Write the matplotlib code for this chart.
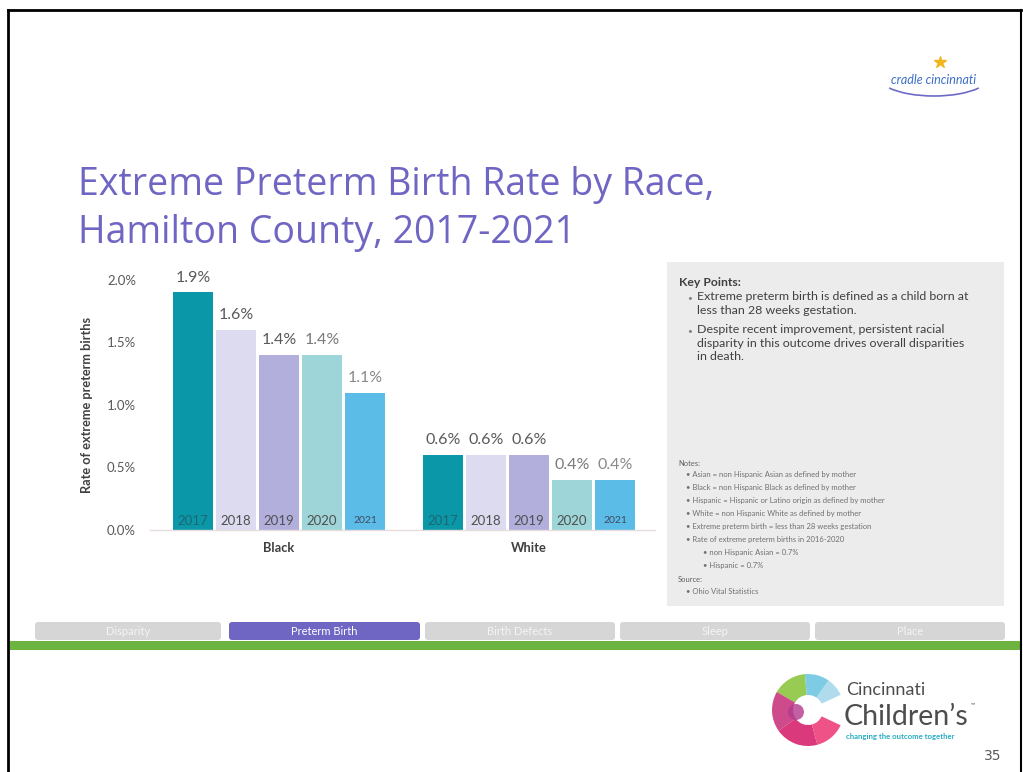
import matplotlib
matplotlib.use("Agg")
import matplotlib.pyplot as plt
from matplotlib.patches import Rectangle, FancyBboxPatch, Wedge, Arc, Circle
import numpy as np

# ---------------- data ----------------
groups = ["Black", "White"]
years = ["2017", "2018", "2019", "2020", "2021"]
black_rates = [1.9, 1.6, 1.4, 1.4, 1.1]
white_rates = [0.6, 0.6, 0.6, 0.4, 0.4]
yticks = [0.0, 0.5, 1.0, 1.5, 2.0]
ytick_labels = ["0.0%", "0.5%", "1.0%", "1.5%", "2.0%"]
bar_colors = ["#0A98A8", "#DCDBF0", "#B2AFDD", "#9DD5D8", "#5CBCE8"]
year_label_colors = ["#1E6673", "#505050", "#505050", "#505050", "#404A60"]
year_label_sizes = [9.5, 9.5, 9.5, 9.5, 7.5]
value_label_colors = ["#595959", "#595959", "#595959", "#7A7A7A", "#8A8A8A"]
nav_labels = ["Disparity", "Preterm Birth", "Birth Defects", "Sleep", "Place"]
key_points = [
    "Extreme preterm birth is defined as a child born at\nless than 28 weeks gestation.",
    "Despite recent improvement, persistent racial\ndisparity in this outcome drives overall disparities\nin death.",
]
notes = [
    "• Asian = non Hispanic Asian as defined by mother",
    "• Black = non Hispanic Black as defined by mother",
    "• Hispanic = Hispanic or Latino origin as defined by mother",
    "• White = non Hispanic White as defined by mother",
    "• Extreme preterm birth = less than 28 weeks gestation",
    "• Rate of extreme preterm births in 2016-2020",
]
sub_notes = ["• non Hispanic Asian = 0.7%", "• Hispanic = 0.7%"]
source = "• Ohio Vital Statistics"

W, H = 1023, 772
fig = plt.figure(figsize=(W / 100, H / 100), dpi=100)
fig.patch.set_facecolor("white")
FONT = "Lato"

# ---------- overlay axes in pixel coordinates ----------
bg = fig.add_axes([0, 0, 1, 1])
bg.set_xlim(0, W)
bg.set_ylim(H, 0)
bg.axis("off")

# slide border
bg.plot([8, 1021], [10, 10], color="black", lw=2)
bg.plot([8, 8], [10, 772], color="black", lw=2)
bg.plot([1021, 1021], [10, 772], color="black", lw=1.5)

# title
bg.text(78, 195, "Extreme Preterm Birth Rate by Race,", fontsize=27, color="#6F66C4",
        family="Open Sans", va="baseline")
bg.text(78, 243, "Hamilton County, 2017-2021", fontsize=27, color="#6F66C4",
        family="Open Sans", va="baseline")

# key points box
bg.add_patch(Rectangle((667, 262), 337, 344, facecolor="#ECECEC", edgecolor="none"))
bg.text(679, 282, "Key Points:", fontsize=8.8, fontweight="bold", color="#404040",
        family=FONT, va="center")
ky = 298
for kp in key_points:
    bg.text(687, ky, "•", fontsize=6, color="#7f7f7f", va="center", family=FONT)
    n = kp.count("\n") + 1
    bg.text(697, ky - 7, kp, fontsize=8.9, color="#404040", family=FONT, va="top",
            linespacing=1.3)
    ky += n * 16 + 1

bg.text(678, 463, "Notes:", fontsize=5.4, color="#606060", family=FONT, va="center")
ny = 475
for nt in notes:
    bg.text(686, ny, nt, fontsize=5.5, color="#707070", family=FONT, va="center")
    ny += 12.9
for sn in sub_notes:
    bg.text(703, ny, sn, fontsize=5.5, color="#707070", family=FONT, va="center")
    ny += 12.9
bg.text(678, 579, "Source:", fontsize=5.4, color="#606060", family=FONT, va="center")
bg.text(686, 592, source, fontsize=5.5, color="#707070", family=FONT, va="center")

# nav bar
nav_x = [35, 229, 425, 620, 815]
nav_w = [186, 191, 190, 190, 190]
for i, (lab, x0, w) in enumerate(zip(nav_labels, nav_x, nav_w)):
    fc = "#6F66C4" if i == 1 else "#D6D6D6"
    bg.add_patch(FancyBboxPatch((x0, 622), w, 18, boxstyle="round,pad=0,rounding_size=3",
                                facecolor=fc, edgecolor="none"))
    bg.text(x0 + w / 2, 631.5, lab, fontsize=8, color="white" if i == 1 else "#F4F4F4",
            ha="center", va="center", family=FONT)
bg.add_patch(Rectangle((10, 641), 1011, 9, facecolor="#6DB33F", edgecolor="none"))

# cradle cincinnati logo
bg.plot([940], [62], marker="*", color="#F2B51C", markersize=9)
bg.text(934, 80, "cradle cincinnati", fontsize=9, color="#3D6FC6", ha="center",
        va="center", family=FONT, style="italic")
bg.add_patch(Arc((934, 76), 112, 40, theta1=15, theta2=165, color="#6E6AC9", lw=1.2))

# Cincinnati Children's logo
cx, cy = 808, 710
wedge_specs = [(95, 150, "#8CC63F"), (55, 95, "#6FC7E0"), (25, 55, "#A8D8EA"),
               (150, 215, "#C8377D"), (215, 285, "#D6246E"), (285, 335, "#EE3F7A")]
for t1, t2, c in wedge_specs:
    bg.add_patch(Wedge((cx, cy), 36, -t2, -t1, width=21, facecolor=c, edgecolor="none",
                       alpha=0.9))
bg.add_patch(Circle((cx - 12, cy + 2), 8, facecolor="#B23A8E", edgecolor="none", alpha=0.8))
bg.text(846, 690, "Cincinnati", fontsize=13, color="#4D4D4F", family=FONT, va="center")
bg.text(844, 717, "Children\u2019s", fontsize=20.5, color="#4D4D4F", family=FONT,
        va="center")
bg.text(971, 705, "\u2122", fontsize=4, color="#4D4D4F", family=FONT, va="center")
bg.text(846, 737, "changing the outcome together", fontsize=5.6, color="#27AEC4",
        fontweight="bold", family=FONT, va="center")
bg.text(1001, 756, "35", fontsize=10, color="#595959", family="DejaVu Sans", ha="right",
        va="center")

# ---------------- chart ----------------
px_per_unit = 250.0
left_px, right_px, bottom_px, top_px = 150, 655, 530, 280
x_center0 = 279.0
ax = fig.add_axes([left_px / W, (H - bottom_px) / H, (right_px - left_px) / W,
                   (bottom_px - top_px) / H])
ax.set_xlim((left_px - x_center0) / px_per_unit, (right_px - x_center0) / px_per_unit)
ax.set_ylim(0, 2.0)
ax.patch.set_alpha(0)

x = np.arange(len(groups))
step = 43.0 / px_per_unit
width = 40.0 / px_per_unit
series = list(zip(black_rates, white_rates))
for i, yr in enumerate(years):
    vals = series[i]
    xs = x + (i - 2) * step
    ax.bar(xs, vals, width=width, color=bar_colors[i], edgecolor="none", zorder=2)
    for xi, v in zip(xs, vals):
        ax.annotate(f"{v:.1f}%", (xi, v), xytext=(0, 10.5), textcoords="offset points",
                    ha="center", va="center", fontsize=11.5, color=value_label_colors[i],
                    family=FONT, annotation_clip=False)
        ax.annotate(yr, (xi, 0), xytext=(0, 6.5), textcoords="offset points",
                    ha="center", va="center", fontsize=year_label_sizes[i],
                    color=year_label_colors[i], family=FONT, zorder=3)

ax.set_yticks(yticks)
ax.set_yticklabels(ytick_labels, fontsize=9.5, color="#595959", family=FONT)
ax.tick_params(axis="y", length=0, pad=10)
ax.set_xticks(x)
ax.set_xticklabels(groups, fontsize=9.3, fontweight="bold", color="#404040", family=FONT)
ax.tick_params(axis="x", length=0, pad=9)
for s in ["top", "right", "left"]:
    ax.spines[s].set_visible(False)
ax.spines["bottom"].set_color("#E6DCDC")
ax.spines["bottom"].set_linewidth(1)
ax.set_ylabel("Rate of extreme preterm births", fontsize=9.2, fontweight="bold",
              color="#404040", family=FONT, labelpad=10)

fig.savefig("out.png", dpi=100, facecolor="white")
